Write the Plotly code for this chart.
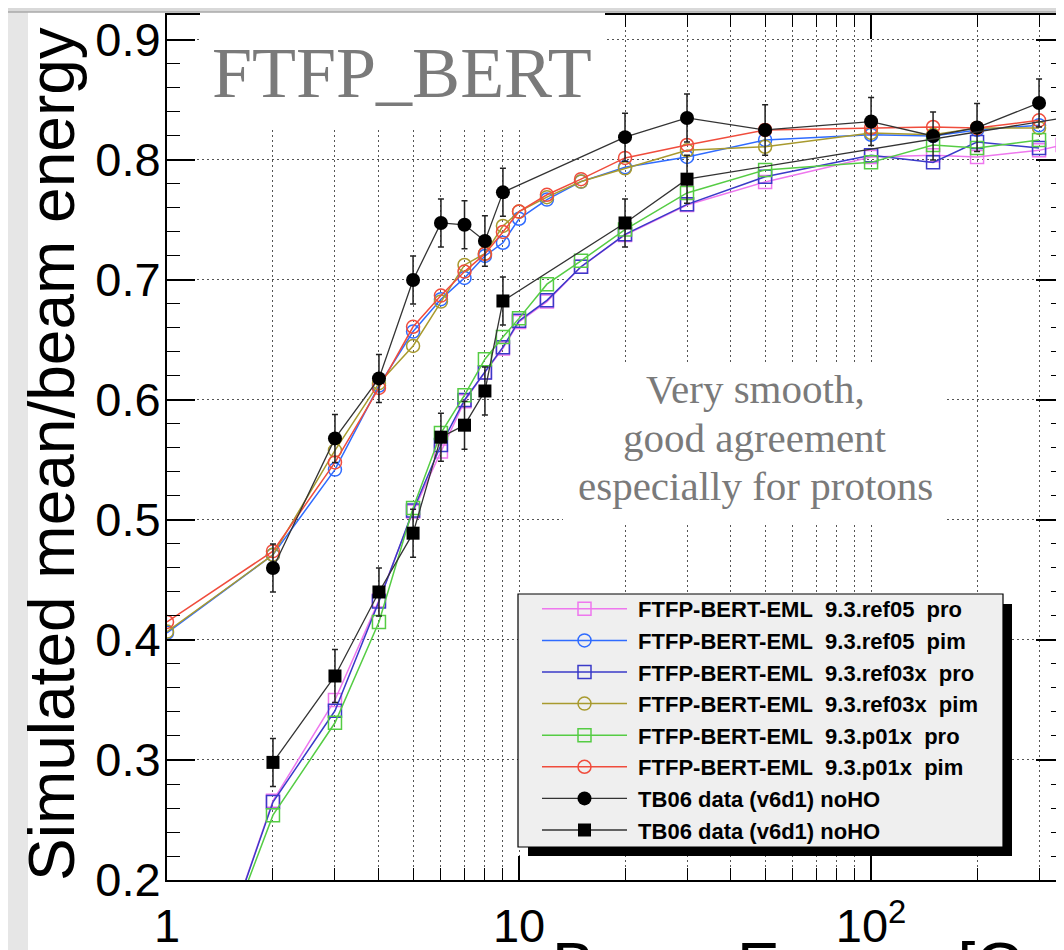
import plotly.graph_objects as go

# ---------------- data ----------------
x_sim = [1, 2, 3, 4, 5, 6, 7, 8, 9, 10, 12, 15, 20, 30, 50, 100, 150, 200, 300]
x_sim_ref05_pro = x_sim + [350]

ref05_pro = [0.01, 0.266, 0.350, 0.433, 0.507, 0.557, 0.599, 0.623, 0.643, 0.665, 0.682,
             0.711, 0.7375, 0.7625, 0.7817, 0.8025, 0.804, 0.8025, 0.808, 0.8125]
ref05_pim = [0.406, 0.471, 0.542, 0.612, 0.657, 0.684, 0.7017, 0.720, 0.731, 0.751, 0.767,
             0.782, 0.794, 0.8025, 0.8167, 0.821, 0.820, 0.825, 0.829]
ref03x_pro = [0.01, 0.265, 0.341, 0.432, 0.508, 0.5625, 0.600, 0.623, 0.644, 0.666, 0.683,
              0.711, 0.738, 0.763, 0.786, 0.804, 0.798, 0.815, 0.810]
ref03x_pim = [0.407, 0.471, 0.558, 0.614, 0.645, 0.682, 0.7125, 0.722, 0.745, 0.757, 0.769,
              0.782, 0.793, 0.808, 0.811, 0.8225, 0.821, 0.8267, 0.8267]
p01x_pro = [0.02, 0.254, 0.331, 0.415, 0.510, 0.5725, 0.604, 0.634, 0.6525, 0.668, 0.6965,
            0.716, 0.742, 0.7725, 0.7917, 0.798, 0.8125, 0.810, 0.8167]
p01x_pim = [0.415, 0.474, 0.548, 0.610, 0.661, 0.687, 0.707, 0.7217, 0.740, 0.757, 0.771,
            0.784, 0.8017, 0.8125, 0.825, 0.8267, 0.8275, 0.8267, 0.833]

x_data_pim = [2, 3, 4, 5, 6, 7, 8, 9, 20, 30, 50, 100, 150, 200, 300]
data_pim = [0.460, 0.568, 0.618, 0.700, 0.7475, 0.746, 0.7325, 0.773, 0.819, 0.835, 0.825,
            0.832, 0.820, 0.827, 0.8475]
err_pim = [0.02, 0.02, 0.02, 0.02, 0.02, 0.02, 0.021, 0.02, 0.02, 0.02, 0.021, 0.02, 0.02, 0.02, 0.02]

x_data_pro = [2, 3, 4, 5, 6, 7, 8, 9, 20, 30, 350]
data_pro = [0.298, 0.370, 0.440, 0.489, 0.569, 0.579, 0.6075, 0.6825, 0.7475, 0.784, 0.835]
err_pro = [0.02, 0.022, 0.02, 0.02, 0.02, 0.02, 0.02, 0.02, 0.02, 0.02, 0.02]

names = [
    "FTFP-BERT-EML\u00a0 9.3.ref05\u00a0 pro",
    "FTFP-BERT-EML\u00a0 9.3.ref05\u00a0 pim",
    "FTFP-BERT-EML\u00a0 9.3.ref03x\u00a0 pro",
    "FTFP-BERT-EML\u00a0 9.3.ref03x\u00a0 pim",
    "FTFP-BERT-EML\u00a0 9.3.p01x\u00a0 pro",
    "FTFP-BERT-EML\u00a0 9.3.p01x\u00a0 pim",
    "TB06 data (v6d1) noHO",
    "TB06 data (v6d1) noHO",
]
colors = ["#ee77ee", "#2f6bff", "#3a3ac8", "#a89a2e", "#55cc44", "#f04c3c"]

x_tickvals = [1, 10, 100]
x_ticktext = ["1", "10", "10<sup>2</sup>"]
x_minor = [2, 3, 4, 5, 6, 7, 8, 9, 20, 30, 40, 50, 60, 70, 80, 90, 200, 300]

# ---------------- figure ----------------
# The page body has an 8px margin, so the figure is drawn 8px right/down.
OFF = 8
W, H = 1064 - OFF, 950 - OFF
L, R, T, B = 167 - OFF, 0, 15 - OFF, 70
PW, PH = W - L - R, H - T - B


def px(xs):
    """screen x (reference pixels) -> paper x"""
    return (xs - OFF - L) / PW


def py(ys):
    """screen y (reference pixels) -> paper y"""
    return (H - B - (ys - OFF)) / PH


fig = go.Figure()

sim = [
    (x_sim_ref05_pro, ref05_pro, "square-open"),
    (x_sim, ref05_pim, "circle-open"),
    (x_sim, ref03x_pro, "square-open"),
    (x_sim, ref03x_pim, "circle-open"),
    (x_sim, p01x_pro, "square-open"),
    (x_sim, p01x_pim, "circle-open"),
]
pad_name = "\u00a0"
for i, (xs, ys, sym) in enumerate(sim):
    fig.add_trace(go.Scatter(
        x=xs, y=ys, mode="lines+markers", name=pad_name + names[i],
        line=dict(color=colors[i], width=1.5),
        marker=dict(symbol=sym, size=13, color=colors[i], line=dict(width=1.5, color=colors[i])),
    ))

fig.add_trace(go.Scatter(
    x=x_data_pim, y=data_pim, mode="lines+markers", name=pad_name + names[6],
    line=dict(color="#333333", width=1.3),
    marker=dict(symbol="circle", size=14, color="black"),
    error_y=dict(type="data", array=err_pim, color="#222222", thickness=1.5, width=3),
))
fig.add_trace(go.Scatter(
    x=x_data_pro, y=data_pro, mode="lines+markers", name=pad_name + names[7],
    line=dict(color="#333333", width=1.3),
    marker=dict(symbol="square", size=13, color="black"),
    error_y=dict(type="data", array=err_pro, color="#222222", thickness=1.5, width=3),
))

grid_col = "#555555"
grid_dash = "2px,3px"
tick_font = dict(family="Liberation Sans, Arial, sans-serif", size=47, color="black")

fig.update_xaxes(
    type="log", range=[0, 2.548], automargin=False,
    tickmode="array", tickvals=x_tickvals, ticktext=x_ticktext,
    ticks="inside", ticklen=24, tickwidth=1.5, tickcolor="black",
    showline=True, linewidth=2, linecolor="black", mirror="ticks",
    showgrid=True, gridcolor=grid_col, gridwidth=1, griddash=grid_dash,
    minor=dict(tickvals=x_minor, ticks="inside", ticklen=12, tickwidth=1, tickcolor="black",
               showgrid=True, gridcolor=grid_col, gridwidth=1, griddash=grid_dash),
    tickfont=tick_font, ticklabelstandoff=4, zeroline=False,
)
fig.update_yaxes(
    range=[0.2, 0.9208], tick0=0.2, dtick=0.1, tickformat=".1f", automargin=False,
    ticks="inside", ticklen=28, tickwidth=1.5, tickcolor="black",
    showline=True, linewidth=2, linecolor="black", mirror="ticks",
    showgrid=True, gridcolor=grid_col, gridwidth=1, griddash=grid_dash,
    minor=dict(dtick=0.02, ticks="inside", ticklen=13, tickwidth=1, tickcolor="black", showgrid=False),
    tickfont=tick_font, ticklabelstandoff=-5, zeroline=False,
)

shapes = [
    # slide decorations
    dict(type="rect", xref="paper", yref="paper", x0=px(0), x1=px(28), y0=py(960), y1=py(0),
         fillcolor="#e6e6e6", line=dict(width=0), layer="above"),
    dict(type="rect", xref="paper", yref="paper", x0=px(0), x1=px(1070), y0=py(12), y1=py(0),
         fillcolor="#d9d9d9", line=dict(width=0), layer="above"),
    dict(type="line", xref="paper", yref="paper", x0=px(0), x1=px(1070), y0=py(12), y1=py(12),
         line=dict(color="#a8a8a8", width=1.5), layer="above"),
    # white box behind title
    dict(type="rect", xref="paper", yref="paper", x0=px(200), x1=px(605), y0=py(130), y1=py(13),
         fillcolor="white", line=dict(width=0), layer="above"),
    # white box behind comment
    dict(type="rect", xref="paper", yref="paper", x0=px(563), x1=px(945), y0=py(522), y1=py(365),
         fillcolor="white", line=dict(width=0), layer="above"),
    # legend shadow + box
    dict(type="rect", xref="paper", yref="paper", x0=px(528), x1=px(1012), y0=py(856), y1=py(604),
         fillcolor="black", line=dict(width=0), layer="above"),
    dict(type="rect", xref="paper", yref="paper", x0=px(518), x1=px(1003), y0=py(847), y1=py(594),
         fillcolor="#efefef", line=dict(color="black", width=1.2), layer="above"),
]

serif = "Liberation Serif, Times New Roman, serif"
sans = "Liberation Sans, Arial, sans-serif"
annotations = [
    dict(text="FTFP_BERT", xref="paper", yref="paper", x=px(210), y=py(73),
         xanchor="left", yanchor="middle", showarrow=False,
         font=dict(family=serif, size=72, color="#7a7a7a")),
    dict(text="Very smooth,", xref="paper", yref="paper", x=px(755), y=py(389),
         xanchor="center", yanchor="middle", showarrow=False,
         font=dict(family=serif, size=41, color="#7a7a7a")),
    dict(text="good agreement", xref="paper", yref="paper", x=px(755), y=py(438),
         xanchor="center", yanchor="middle", showarrow=False,
         font=dict(family=serif, size=41, color="#7a7a7a")),
    dict(text="especially for protons", xref="paper", yref="paper", x=px(755), y=py(486),
         xanchor="center", yanchor="middle", showarrow=False,
         font=dict(family=serif, size=41, color="#7a7a7a")),
    dict(text="Simulated mean/beam energy", xref="paper", yref="paper", x=px(52), y=py(454),
         xanchor="center", yanchor="middle", textangle=-90, showarrow=False,
         font=dict(family=sans, size=64, color="black")),
    dict(text="Beam Energy [GeV]", xref="paper", yref="paper", x=px(550), y=py(928),
         xanchor="left", yanchor="top", showarrow=False,
         font=dict(family=sans, size=64, color="black")),
]

fig.update_layout(
    width=W, height=H, autosize=False,
    margin=dict(l=L, r=R, t=T, b=B, pad=0, autoexpand=False),
    paper_bgcolor="white", plot_bgcolor="white",
    shapes=shapes, annotations=annotations,
    showlegend=True,
    legend=dict(x=px(537), y=py(588), xanchor="left", yanchor="top",
                bgcolor="rgba(0,0,0,0)", borderwidth=0,
                font=dict(family=sans, size=22, color="black", weight="bold"),
                itemwidth=85, tracegroupgap=0, traceorder="normal"),
)

fig.write_html("out.html")
